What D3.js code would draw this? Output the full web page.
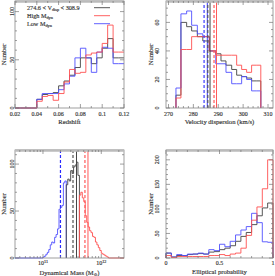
<!DOCTYPE html>
<html><head><meta charset="utf-8">
<script src="https://cdn.jsdelivr.net/npm/d3@7"></script>
<style>
body{margin:0;background:#fff}
svg{display:block}
text{font-family:"Liberation Serif","DejaVu Serif",serif;fill:#333;stroke:#333;stroke-width:0.15}
</style></head>
<body><svg id="c" width="275" height="276"></svg>
<script>
// ---------- Panel 1: Redshift ----------
const zEdges = [0.02,0.025,0.03,0.035,0.04,0.045,0.05,0.055,0.06,0.065,0.07,0.075,0.08,0.085,0.09,0.095,0.10,0.105,0.11,0.115,0.12];
const zAll  = [0,0,0,0,9,14,15,16,23,28,34,42,52,52,46,52,62,72,52,52];
const zHigh = [0,0,0,0,7,12,13,8,15,27,40,36,37,55,57,58,67,86,58,58];
const zLow  = [0,0,0,0,9,15,15,15,19,25,33,52,62,52,37,58,63,62,46,46];
const zTicks = [0.02,0.04,0.06,0.08,0.1,0.12];
const zTickLabels = ["0.02","0.04","0.06","0.08","0.1","0.12"];
const zMinor = [0.03,0.05,0.07,0.09,0.11];
const z_yTicks = [0,50,100];
const z_yMinor = [10,20,30,40,60,70,80,90,110];

// ---------- Panel 2: Velocity dispersion ----------
const vEdges = [273.0,275.0,277.3,279.3,281.6,283.8,286.4,289.0,291.1,293.1,295.4,297.4,299.4,301.4,303.4,305.5,307.1];
const vAll  = [9,60,57,54,50,47,40,38,33,30,27,23,22,21,19,19];
const vHigh = [7,41,41,50,50,50,40,37,37,37,37,30,27,25,30,30];
const vLow  = [14,66,68,58,52,50,40,31,31,25,17,17,22,20,12,12];
const vMarkAll  = {median:285.8, mean:286.7};
const vMarkHigh = {median:288.3, mean:289.3};
const vMarkLow  = {median:284.3, mean:285.6};
const vTicks = [270,280,290,300,310];
const vMinor = [272,274,276,278,282,284,286,288,292,294,296,298,302,304,306,308];
const v_yTicks = [0,20,40,60];
const v_yMinor = [5,10,15,25,30,35,45,50,55,65,70];

// ---------- Panel 3: Dynamical mass (log10 M) ----------
const mLowEdges = [10.975,11.0,11.025,11.05,11.075,11.1,11.125,11.15,11.175,11.2,11.225,11.25,11.275,11.3,11.325,11.35,11.375,11.4];
const mLowN     = [0,1,2,4,6,9,14,17,16,22,25,31,52,54,56,80,82];
const mMidEdges = [11.4,11.425,11.45,11.475,11.5,11.525,11.55,11.575,11.6,11.625];
const mMidN     = [78,84,82,93,90,97,99,102,88];
const mHighEdges= [11.625,11.65,11.675,11.7,11.725,11.75,11.775,11.8,11.825,11.85,11.875,11.9,11.925,11.95,11.975,12.0,12.025,12.05,12.075,12.1,12.125];
const mHighN    = [67,70,64,60,45,38,33,29,27,23,22,17,14,11,8,5,4,3,2,1];
const mMarkAll  = {median:11.515, mean:11.575};
const mMarkHigh = {median:11.72, mean:11.772};
const mMarkLow  = {median:11.30};
const mTicks = [1e11,1e12];
const mTickExp = ["11","12"];
const mMinor = [4e10,5e10,6e10,7e10,8e10,9e10,2e11,3e11,4e11,5e11,6e11,7e11,8e11,9e11,2e12];
const m_yTicks = [0,50,100];
const m_yMinor = [10,20,30,40,60,70,80,90,110];

// ---------- Panel 4: Elliptical probability ----------
const eEdges = [0,0.05,0.1,0.15,0.2,0.25,0.3,0.35,0.4,0.45,0.5,0.55,0.6,0.65,0.7,0.75,0.8,0.85,0.9,0.95,1.0];
const eAll  = [10,2,5,5,7,8,9,8,12,13,17,20,25,34,44,52,68,86,102,112];
const eLow  = [10,2,7,5,8,8,10,8,17,15,28,23,34,47,57,64,91,72,33,32];
const eHigh = [5,1,3,3,3,3,3,3,5,5,7,5,8,10,20,46,77,104,141,200];
const eTicks = [0,0.5,1];
const eTickLabels = ["0","0.5","1"];
const eMinor = [0.1,0.2,0.3,0.4,0.6,0.7,0.8,0.9];
const e_yTicks = [0,50,100,150,200];
const e_yMinor = [10,20,30,40,60,70,80,90,110,120,130,140,160,170,180,190,210];

// ---------- styles ----------
const C_ALL = "#444", C_HIGH = "#ff5050", C_LOW = "#5050ff";
const svg = d3.select("#c");
const FS_TICK = 6, FS_TITLE = 6.6;

function frame(g, x, y) {
  const [x0,x1] = x.range(), [y0,y1] = y.range();
  g.append("rect").attr("x",x0).attr("y",y1).attr("width",x1-x0).attr("height",y0-y1)
   .attr("fill","none").attr("stroke","#888").attr("stroke-width",0.8);
  g.append("line").attr("x1",x0).attr("x2",x1).attr("y1",y1+0.5).attr("y2",y1+0.5)
   .attr("stroke","#bbb").attr("stroke-width",2.5);
}
function ticksX(g, x, y, vals, len) {
  const [y0,y1] = y.range();
  vals.forEach(v => {
    const px = x(v);
    g.append("line").attr("x1",px).attr("x2",px).attr("y1",y0).attr("y2",y0-len).attr("stroke","#777").attr("stroke-width",0.7);
    g.append("line").attr("x1",px).attr("x2",px).attr("y1",y1).attr("y2",y1+len).attr("stroke","#777").attr("stroke-width",0.7);
  });
}
function ticksY(g, x, y, vals, len) {
  const [x0,x1] = x.range();
  vals.forEach(v => {
    const py = y(v);
    g.append("line").attr("x1",x0).attr("x2",x0+len).attr("y1",py).attr("y2",py).attr("stroke","#777").attr("stroke-width",0.7);
    g.append("line").attr("x1",x1).attr("x2",x1-len).attr("y1",py).attr("y2",py).attr("stroke","#777").attr("stroke-width",0.7);
  });
}
function labelsX(g, x, vals, labels, ty) {
  vals.forEach((v,i) => g.append("text").attr("x",x(v)).attr("y",ty).attr("text-anchor","middle")
    .attr("font-size",FS_TICK).text(labels[i]));
}
function labelsY(g, y, vals, tx) {
  vals.forEach(v => g.append("text").attr("transform",`translate(${tx},${y(v)}) rotate(-90)`)
    .attr("text-anchor","middle").attr("font-size",FS_TICK).text(v));
}
function yTitle(g, y, tx) {
  const [y0,y1] = y.range();
  g.append("text").attr("transform",`translate(${tx},${(y0+y1)/2}) rotate(-90)`)
   .attr("text-anchor","middle").attr("font-size",FS_TITLE).text("Number");
}
function stepPath(x, y, edges, vals, opts={}) {
  let d = "";
  if (opts.from !== undefined) d += `M${x(opts.from)},${y(0)}H${x(edges[0])}`;
  else d += `M${x(edges[0])},${y(0)}`;
  d += `V${y(vals[0])}`;
  for (let i=0;i<vals.length;i++) {
    d += `H${x(edges[i+1])}`;
    if (i+1<vals.length) d += `V${y(vals[i+1])}`;
  }
  if (!opts.noDrop) d += `V${y(0)}`;
  if (opts.to !== undefined) d += `H${x(opts.to)}`;
  return d;
}
function hist(g, x, y, edges, vals, color, opts) {
  g.append("path").attr("d",stepPath(x,y,edges,vals,opts)).attr("fill","none")
   .attr("stroke",color).attr("stroke-width",0.9);
}
function vline(g, x, y, v, color, dashed) {
  const [y0,y1] = y.range();
  g.append("line").attr("x1",x(v)).attr("x2",x(v)).attr("y1",y0).attr("y2",y1)
   .attr("stroke",color).attr("stroke-width",dashed?1.2:1)
   .attr("stroke-dasharray",dashed?"3,2":null);
}

// ================= Panel 1 =================
{
  const x = d3.scaleLinear().domain([0.02,0.12]).range([15,124]);
  const y = d3.scaleLinear().domain([0,111]).range([108,1]);
  const g = svg.append("g");
  hist(g,x,y,zEdges,zAll,C_ALL,{noDrop:true});
  hist(g,x,y,zEdges,zLow,C_LOW,{noDrop:true});
  hist(g,x,y,zEdges,zHigh,C_HIGH,{noDrop:true});
  frame(g,x,y);
  ticksX(g,x,y,zTicks,4); ticksX(g,x,y,zMinor,2);
  ticksY(g,x,y,z_yTicks,4); ticksY(g,x,y,z_yMinor,2);
  labelsX(g,x,zTicks,zTickLabels,115.5);
  labelsY(g,y,z_yTicks,13.5);
  yTitle(g,y,5.5);
  g.append("text").attr("x",(x.range()[0]+x.range()[1])/2).attr("y",124).attr("text-anchor","middle")
   .attr("font-size",FS_TITLE).text("Redshift");
  const leg = [
    {c:C_ALL, parts:[["274.6 < V",0],["disp",1],[" < 308.9",0]], ly:9.5},
    {c:C_HIGH, parts:[["High M",0],["dyn",1]], ly:17.5},
    {c:C_LOW, parts:[["Low M",0],["dyn",1]], ly:25.5}
  ];
  leg.forEach(L => {
    const t = g.append("text").attr("x",27).attr("y",L.ly).attr("font-size",6.2);
    L.parts.forEach(p => {
      const ts = t.append("tspan").text(p[0]);
      if (p[1]) ts.attr("font-size",4.3).attr("dy",1.5);
      else if (t.selectAll("tspan").size()>1) ts.attr("dy",-1.5);
    });
    g.append("line").attr("x1",94).attr("x2",110).attr("y1",L.ly-1.8).attr("y2",L.ly-1.8)
     .attr("stroke",L.c).attr("stroke-width",0.9);
  });
}

// ================= Panel 2 =================
{
  const x = d3.scaleLinear().domain([269,312]).range([166,273]);
  const y = d3.scaleLinear().domain([0,75]).range([108,1]);
  const g = svg.append("g");
  hist(g,x,y,vEdges,vAll,C_ALL);
  hist(g,x,y,vEdges,vLow,C_LOW);
  hist(g,x,y,vEdges,vHigh,C_HIGH);
  vline(g,x,y,vMarkLow.median,"#3a3aff",true); vline(g,x,y,vMarkLow.mean,"#3a3aff",false);
  vline(g,x,y,vMarkAll.median,"#555",true); vline(g,x,y,vMarkAll.mean,"#444",false);
  vline(g,x,y,vMarkHigh.median,"#ff5a5a",true); vline(g,x,y,vMarkHigh.mean,"#ff5a5a",false);
  frame(g,x,y);
  ticksX(g,x,y,vTicks,4); ticksX(g,x,y,vMinor,2);
  ticksY(g,x,y,v_yTicks,4); ticksY(g,x,y,v_yMinor,2);
  labelsX(g,x,vTicks,vTicks.map(String),115.5);
  labelsY(g,y,v_yTicks,159);
  yTitle(g,y,152.5);
  g.append("text").attr("x",(x.range()[0]+x.range()[1])/2).attr("y",124).attr("text-anchor","middle")
   .attr("font-size",FS_TITLE).text("Velocity dispersion (km/s)");
}

// ================= Panel 3 =================
{
  const x = d3.scaleLog().domain([Math.pow(10,10.52),Math.pow(10,12.39)]).range([15,124]);
  const y = d3.scaleLinear().domain([0,115]).range([258,150]);
  const g = svg.append("g");
  const P = a => a.map(v => Math.pow(10,v));
  const dom = x.domain();
  hist(g,x,y,P(mLowEdges),mLowN,C_LOW,{from:dom[0]});
  hist(g,x,y,P(mMidEdges),mMidN,C_ALL);
  hist(g,x,y,P(mHighEdges),mHighN,C_HIGH,{to:dom[1]});
  vline(g,x,y,Math.pow(10,mMarkLow.median),"#2a2aff",true);
  vline(g,x,y,Math.pow(10,mMarkAll.median),"#555",true); vline(g,x,y,Math.pow(10,mMarkAll.mean),"#444",false);
  vline(g,x,y,Math.pow(10,mMarkHigh.median),"#ff5a5a",true); vline(g,x,y,Math.pow(10,mMarkHigh.mean),"#ff5a5a",false);
  frame(g,x,y);
  ticksX(g,x,y,mTicks,4); ticksX(g,x,y,mMinor,2);
  ticksY(g,x,y,m_yTicks,4); ticksY(g,x,y,m_yMinor,2);
  mTicks.forEach((v,i) => {
    const t = g.append("text").attr("x",x(v)).attr("y",265).attr("text-anchor","middle").attr("font-size",FS_TICK);
    t.append("tspan").text("10");
    t.append("tspan").attr("font-size",4.2).attr("dy",-2.5).text(mTickExp[i]);
  });
  labelsY(g,y,m_yTicks,13.5);
  yTitle(g,y,5.5);
  const t = g.append("text").attr("x",(x.range()[0]+x.range()[1])/2).attr("y",274.5).attr("text-anchor","middle")
   .attr("font-size",FS_TITLE);
  t.append("tspan").text("Dynamical Mass (M");
  t.append("tspan").attr("font-size",4.3).attr("dy",1.5).text("\u2299");
  t.append("tspan").attr("dy",-1.5).text(")");
}

// ================= Panel 4 =================
{
  const x = d3.scaleLinear().domain([0,1]).range([166,273]);
  const y = d3.scaleLinear().domain([0,220]).range([258,150]);
  const g = svg.append("g");
  hist(g,x,y,eEdges,eAll,C_ALL);
  hist(g,x,y,eEdges,eLow,C_LOW);
  hist(g,x,y,eEdges,eHigh,C_HIGH);
  frame(g,x,y);
  ticksX(g,x,y,eTicks,4); ticksX(g,x,y,eMinor,2);
  ticksY(g,x,y,e_yTicks,4); ticksY(g,x,y,e_yMinor,2);
  labelsX(g,x,eTicks,eTickLabels,265);
  labelsY(g,y,e_yTicks,159);
  yTitle(g,y,152.5);
  g.append("text").attr("x",(x.range()[0]+x.range()[1])/2).attr("y",274).attr("text-anchor","middle")
   .attr("font-size",FS_TITLE).text("Elliptical probability");
}
</script></body></html>
